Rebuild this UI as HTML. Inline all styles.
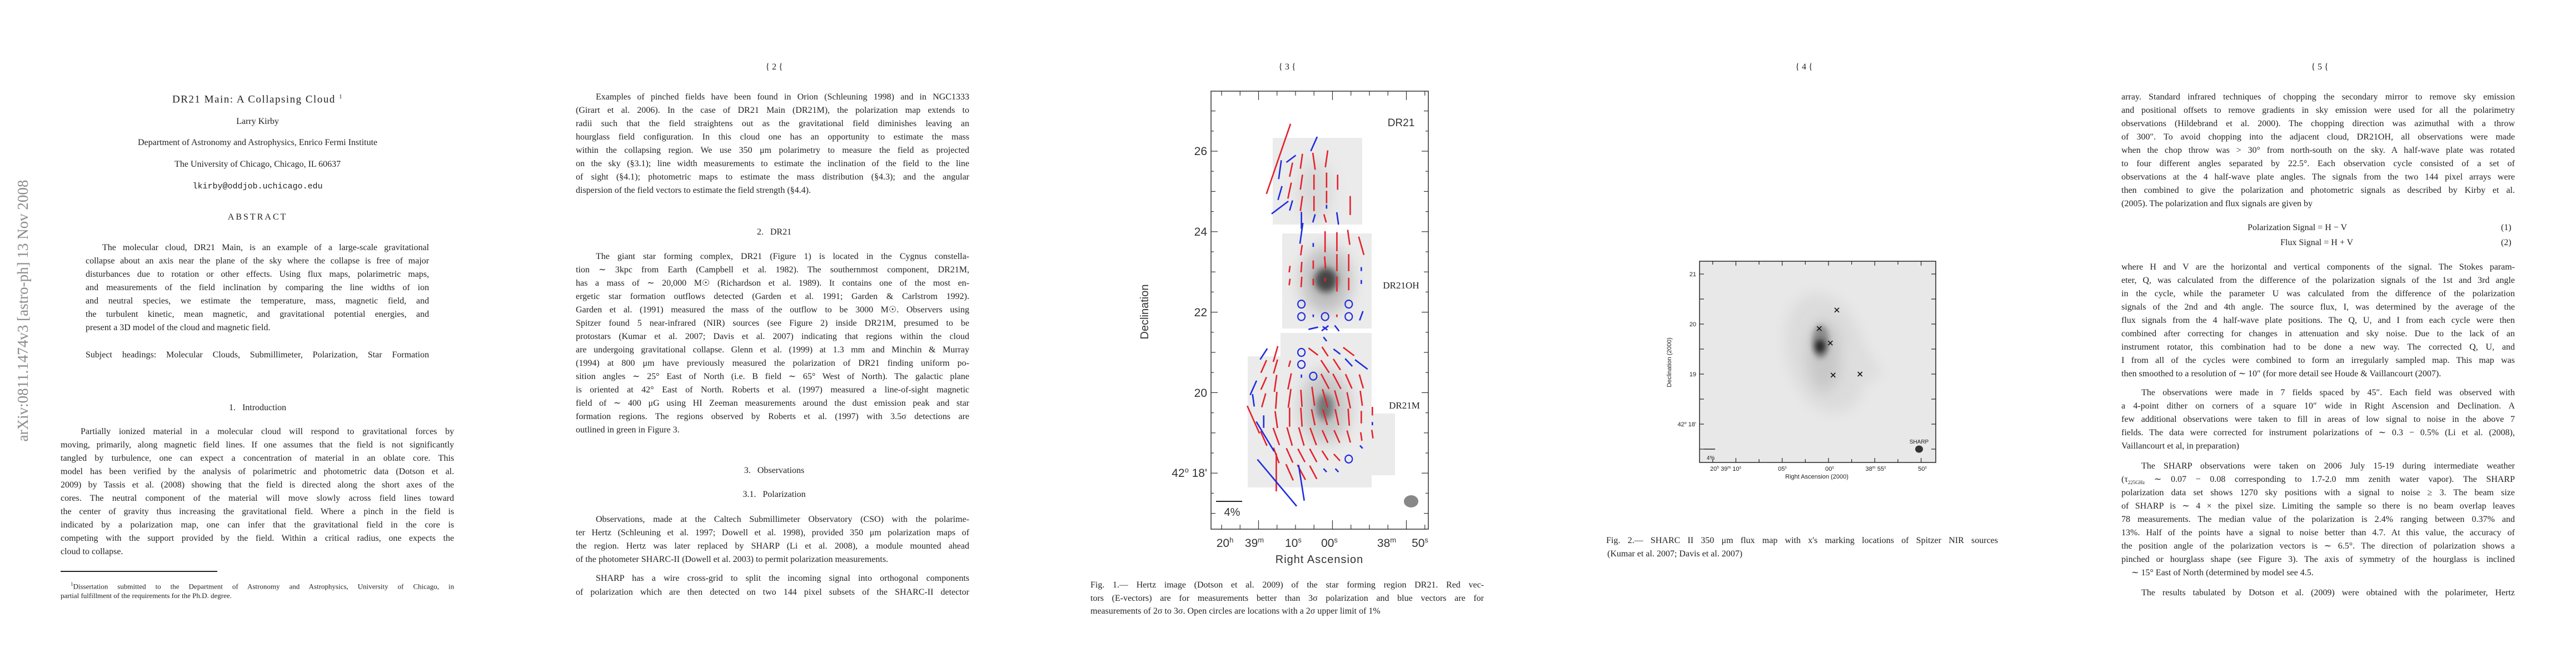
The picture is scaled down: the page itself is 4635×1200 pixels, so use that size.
<!DOCTYPE html>
<html><head><meta charset="utf-8">
<style>
html,body{margin:0;padding:0;background:#fff;}
body{width:4635px;height:1200px;position:relative;overflow:hidden;}
.t{position:absolute;white-space:nowrap;font:16px/20px "Liberation Serif",serif;color:#222;}
.j{text-align:justify;text-align-last:justify;}
.c{text-align:center;}
.fn{font-size:13px;line-height:16px;}
svg{position:absolute;left:0;top:0;}
</style></head>
<body>
<!-- sidebar -->
<div class="t" style="left:41px;top:559px;font-size:27px;line-height:30px;color:#8a8a8a;transform:translate(-50%,-50%) rotate(-90deg);">arXiv:0811.1474v3 [astro-ph] 13 Nov 2008</div>

<!-- PAGE 1 -->
<div>
<div class="t c" style="left:0;width:927px;top:164px;font-size:19px;letter-spacing:1.5px;">DR21 Main: A Collapsing Cloud <sup style="font-size:11px">1</sup></div>
<div class="t c" style="left:0;width:927px;top:209px;">Larry Kirby</div>
<div class="t c" style="left:0;width:927px;top:247px;">Department of Astronomy and Astrophysics, Enrico Fermi Institute</div>
<div class="t c" style="left:0;width:927px;top:286px;">The University of Chicago, Chicago, IL 60637</div>
<div class="t c" style="left:0;width:927px;top:326px;font-family:'Liberation Mono',monospace;font-size:15px;">lkirby@oddjob.uchicago.edu</div>
<div class="t c" style="left:0;width:927px;top:381px;letter-spacing:3px;">ABSTRACT</div>
<div class="t j" style="left:184px;width:588px;top:436px;">The molecular cloud, DR21 Main, is an example of a large-scale gravitational</div>
<div class="t j" style="left:154px;width:618px;top:460px;">collapse about an axis near the plane of the sky where the collapse is free of major</div>
<div class="t j" style="left:154px;width:618px;top:484px;">disturbances due to rotation or other effects. Using flux maps, polarimetric maps,</div>
<div class="t j" style="left:154px;width:618px;top:508px;">and measurements of the field inclination by comparing the line widths of ion</div>
<div class="t j" style="left:154px;width:618px;top:532px;">and neutral species, we estimate the temperature, mass, magnetic field, and</div>
<div class="t j" style="left:154px;width:618px;top:556px;">the turbulent kinetic, mean magnetic, and gravitational potential energies, and</div>
<div class="t" style="left:154px;top:580px;">present a 3D model of the cloud and magnetic field.</div>
<div class="t j" style="left:154px;width:618px;top:629px;">Subject headings: Molecular Clouds, Submillimeter, Polarization, Star Formation</div>
<div class="t c" style="left:0;width:927px;top:724px;">1.&nbsp;&nbsp; Introduction</div>
<div class="t j" style="left:145px;width:672px;top:767px;">Partially ionized material in a molecular cloud will respond to gravitational forces by</div>
<div class="t j" style="left:109px;width:708px;top:791px;">moving, primarily, along magnetic field lines. If one assumes that the field is not significantly</div>
<div class="t j" style="left:109px;width:708px;top:815px;">tangled by turbulence, one can expect a concentration of material in an oblate core. This</div>
<div class="t j" style="left:109px;width:708px;top:839px;">model has been verified by the analysis of polarimetric and photometric data (Dotson et al.</div>
<div class="t j" style="left:109px;width:708px;top:863px;">2009) by Tassis et al. (2008) showing that the field is directed along the short axes of the</div>
<div class="t j" style="left:109px;width:708px;top:887px;">cores. The neutral component of the material will move slowly across field lines toward</div>
<div class="t j" style="left:109px;width:708px;top:911px;">the center of gravity thus increasing the gravitational field. Where a pinch in the field is</div>
<div class="t j" style="left:109px;width:708px;top:935px;">indicated by a polarization map, one can infer that the gravitational field in the core is</div>
<div class="t j" style="left:109px;width:708px;top:959px;">competing with the support provided by the field. Within a critical radius, one expects the</div>
<div class="t" style="left:109px;top:983px;">cloud to collapse.</div>
<div style="position:absolute;left:109px;top:1027px;width:282px;height:1.5px;background:#222;"></div>
<div class="t j fn" style="left:127px;width:690px;top:1043px;"><sup style="font-size:9px">1</sup>Dissertation submitted to the Department of Astronomy and Astrophysics, University of Chicago, in</div>
<div class="t fn" style="left:109px;top:1064px;">partial fulfillment of the requirements for the Ph.D. degree.</div>
</div>

<!-- PAGE 2 -->
<div>
<div class="t c" style="left:927px;width:932px;top:111px;">{ 2 {</div>
<div class="t j" style="left:1072px;width:672px;top:165px;">Examples of pinched fields have been found in Orion (Schleuning 1998) and in NGC1333</div>
<div class="t j" style="left:1036px;width:708px;top:189px;">(Girart et al. 2006). In the case of DR21 Main (DR21M), the polarization map extends to</div>
<div class="t j" style="left:1036px;width:708px;top:213px;">radii such that the field straightens out as the gravitational field diminishes leaving an</div>
<div class="t j" style="left:1036px;width:708px;top:237px;">hourglass field configuration. In this cloud one has an opportunity to estimate the mass</div>
<div class="t j" style="left:1036px;width:708px;top:261px;">within the collapsing region. We use 350 μm polarimetry to measure the field as projected</div>
<div class="t j" style="left:1036px;width:708px;top:285px;">on the sky (§3.1); line width measurements to estimate the inclination of the field to the line</div>
<div class="t j" style="left:1036px;width:708px;top:309px;">of sight (§4.1); photometric maps to estimate the mass distribution (§4.3); and the angular</div>
<div class="t" style="left:1036px;top:333px;">dispersion of the field vectors to estimate the field strength (§4.4).</div>
<div class="t c" style="left:927px;width:932px;top:408px;">2.&nbsp;&nbsp; DR21</div>
<div class="t j" style="left:1072px;width:672px;top:452px;">The giant star forming complex, DR21 (Figure 1) is located in the Cygnus constella-</div>
<div class="t j" style="left:1036px;width:708px;top:476px;">tion ∼ 3kpc from Earth (Campbell et al. 1982). The southernmost component, DR21M,</div>
<div class="t j" style="left:1036px;width:708px;top:500px;">has a mass of ∼ 20,000 M☉ (Richardson et al. 1989). It contains one of the most en-</div>
<div class="t j" style="left:1036px;width:708px;top:524px;">ergetic star formation outflows detected (Garden et al. 1991; Garden &amp; Carlstrom 1992).</div>
<div class="t j" style="left:1036px;width:708px;top:548px;">Garden et al. (1991) measured the mass of the outflow to be 3000 M☉. Observers using</div>
<div class="t j" style="left:1036px;width:708px;top:572px;">Spitzer found 5 near-infrared (NIR) sources (see Figure 2) inside DR21M, presumed to be</div>
<div class="t j" style="left:1036px;width:708px;top:596px;">protostars (Kumar et al. 2007; Davis et al. 2007) indicating that regions within the cloud</div>
<div class="t j" style="left:1036px;width:708px;top:620px;">are undergoing gravitational collapse. Glenn et al. (1999) at 1.3 mm and Minchin &amp; Murray</div>
<div class="t j" style="left:1036px;width:708px;top:644px;">(1994) at 800 μm have previously measured the polarization of DR21 finding uniform po-</div>
<div class="t j" style="left:1036px;width:708px;top:668px;">sition angles ∼ 25° East of North (i.e. B field ∼ 65° West of North). The galactic plane</div>
<div class="t j" style="left:1036px;width:708px;top:692px;">is oriented at 42° East of North. Roberts et al. (1997) measured a line-of-sight magnetic</div>
<div class="t j" style="left:1036px;width:708px;top:716px;">field of ∼ 400 μG using HI Zeeman measurements around the dust emission peak and star</div>
<div class="t j" style="left:1036px;width:708px;top:740px;">formation regions. The regions observed by Roberts et al. (1997) with 3.5σ detections are</div>
<div class="t" style="left:1036px;top:764px;">outlined in green in Figure 3.</div>
<div class="t c" style="left:927px;width:932px;top:837px;">3.&nbsp;&nbsp; Observations</div>
<div class="t c" style="left:927px;width:932px;top:880px;">3.1.&nbsp;&nbsp; Polarization</div>
<div class="t j" style="left:1072px;width:672px;top:925px;">Observations, made at the Caltech Submillimeter Observatory (CSO) with the polarime-</div>
<div class="t j" style="left:1036px;width:708px;top:949px;">ter Hertz (Schleuning et al. 1997; Dowell et al. 1998), provided 350 μm polarization maps of</div>
<div class="t j" style="left:1036px;width:708px;top:973px;">the region. Hertz was later replaced by SHARP (Li et al. 2008), a module mounted ahead</div>
<div class="t" style="left:1036px;top:997px;">of the photometer SHARC-II (Dowell et al. 2003) to permit polarization measurements.</div>
<div class="t j" style="left:1072px;width:672px;top:1031px;">SHARP has a wire cross-grid to split the incoming signal into orthogonal components</div>
<div class="t j" style="left:1036px;width:708px;top:1056px;">of polarization which are then detected on two 144 pixel subsets of the SHARC-II detector</div>
</div>

<!-- PAGE 3 -->
<div>
<div class="t c" style="left:1850px;width:932px;top:111px;">{ 3 {</div>
<svg id="fig1" width="4635" height="1200" style="pointer-events:none">
<defs>
<filter id="bl1" x="-50%" y="-50%" width="200%" height="200%"><feGaussianBlur stdDeviation="14"/></filter>
<filter id="bl2" x="-50%" y="-50%" width="200%" height="200%"><feGaussianBlur stdDeviation="6"/></filter>
</defs>
<g fill="#ebebeb">
<rect x="2290" y="248" width="161" height="156"/>
<rect x="2307" y="420" width="161" height="171"/>
<rect x="2304" y="599" width="164" height="278"/>
<rect x="2245" y="641" width="59" height="236"/>
<rect x="2468" y="744" width="42" height="111"/>
</g>
<g>
<ellipse cx="2366" cy="343" rx="30" ry="55" fill="#d8d8d8" filter="url(#bl1)"/>
<ellipse cx="2386" cy="504" rx="45" ry="60" fill="#bdbdbd" filter="url(#bl1)"/>
<ellipse cx="2386" cy="504" rx="20" ry="22" fill="#444" filter="url(#bl2)"/>
<ellipse cx="2384" cy="732" rx="45" ry="65" fill="#c6c6c6" filter="url(#bl1)"/>
<ellipse cx="2384" cy="732" rx="16" ry="24" fill="#777" filter="url(#bl2)"/>
</g>
<g id="f1marks"></g>
<rect x="2179" y="164" width="391" height="788" fill="none" stroke="#333" stroke-width="1.5"/>
<g id="f1ticks" stroke="#333" stroke-width="1.2"></g>
<g font-family="Liberation Sans, sans-serif" fill="#333" font-size="21">
<text x="2172" y="279" text-anchor="end">26</text>
<text x="2172" y="424" text-anchor="end">24</text>
<text x="2172" y="569" text-anchor="end">22</text>
<text x="2172" y="714" text-anchor="end">20</text>
<text x="2172" y="858" text-anchor="end">42<tspan dy="-8" font-size="13">o</tspan><tspan dy="8"> 18'</tspan></text>
<text x="2204" y="984" text-anchor="middle">20<tspan dy="-8" font-size="13">h</tspan></text>
<text x="2257" y="984" text-anchor="middle">39<tspan dy="-8" font-size="13">m</tspan></text>
<text x="2327" y="984" text-anchor="middle">10<tspan dy="-8" font-size="13">s</tspan></text>
<text x="2392" y="984" text-anchor="middle">00<tspan dy="-8" font-size="13">s</tspan></text>
<text x="2495" y="984" text-anchor="middle">38<tspan dy="-8" font-size="13">m</tspan></text>
<text x="2555" y="984" text-anchor="middle">50<tspan dy="-8" font-size="13">s</tspan></text>
<text x="2374" y="1013" text-anchor="middle" font-size="20" letter-spacing="1">Right Ascension</text>
<text x="2066" y="561" text-anchor="middle" font-size="20" transform="rotate(-90 2066 561)">Declination</text>
<text x="2521" y="227" text-anchor="middle" font-size="19">DR21</text>
</g>
<g font-family="Liberation Serif, serif" fill="#222" font-size="17">
<text x="2521" y="519" text-anchor="middle">DR21OH</text>
<text x="2527" y="735" text-anchor="middle">DR21M</text>
</g>
<line x1="2188" y1="902" x2="2235" y2="902" stroke="#222" stroke-width="2"/>
<text x="2217" y="928" text-anchor="middle" font-family="Liberation Sans, sans-serif" font-size="20" fill="#333">4%</text>
<ellipse cx="2539" cy="902" rx="13" ry="11" fill="#888"/>
</svg>
<div class="t j" style="left:1962px;width:708px;top:1043px;">Fig. 1.— Hertz image (Dotson et al. 2009) of the star forming region DR21. Red vec-</div>
<div class="t j" style="left:1962px;width:708px;top:1067px;">tors (E-vectors) are for measurements better than 3σ polarization and blue vectors are for</div>
<div class="t" style="left:1962px;top:1090px;">measurements of 2σ to 3σ. Open circles are locations with a 2σ upper limit of 1%</div>
</div>

<!-- PAGE 4 -->
<div>
<div class="t c" style="left:2780px;width:932px;top:111px;">{ 4 {</div>
<svg id="fig2" width="4635" height="1200" style="pointer-events:none">
<defs>
<filter id="bl3" x="-50%" y="-50%" width="200%" height="200%"><feGaussianBlur stdDeviation="12"/></filter>
<filter id="bl4" x="-50%" y="-50%" width="200%" height="200%"><feGaussianBlur stdDeviation="5"/></filter>
<clipPath id="cp2"><rect x="3058" y="470" width="425" height="362"/></clipPath>
</defs>
<rect x="3058" y="470" width="425" height="362" fill="#e8e8e8"/>
<g clip-path="url(#cp2)">
<ellipse cx="3285" cy="635" rx="70" ry="110" fill="#dcdcdc" filter="url(#bl3)" transform="rotate(-15 3285 635)"/>
<ellipse cx="3330" cy="650" rx="60" ry="25" fill="#dedede" filter="url(#bl3)" transform="rotate(25 3330 650)"/>
<ellipse cx="3282" cy="640" rx="30" ry="65" fill="#c8c8c8" filter="url(#bl3)"/>
<ellipse cx="3276" cy="615" rx="15" ry="30" fill="#8a8a8a" filter="url(#bl4)"/>
<ellipse cx="3275" cy="623" rx="9" ry="12" fill="#222" filter="url(#bl4)"/>
</g>
<g id="f2marks"></g>
<rect x="3058" y="470" width="425" height="362" fill="none" stroke="#222" stroke-width="1.5"/>
<g id="f2ticks" stroke="#222" stroke-width="1.2"></g>
<g font-family="Liberation Sans, sans-serif" fill="#222" font-size="11">
<text x="3052" y="497" text-anchor="end">21</text>
<text x="3052" y="587" text-anchor="end">20</text>
<text x="3052" y="677" text-anchor="end">19</text>
<text x="3052" y="767" text-anchor="end">42<tspan dy="-4" font-size="7">o</tspan><tspan dy="4"> 18'</tspan></text>
<text x="3105" y="847" text-anchor="middle">20<tspan dy="-4" font-size="7">h</tspan><tspan dy="4"> 39</tspan><tspan dy="-4" font-size="7">m</tspan><tspan dy="4"> 10</tspan><tspan dy="-4" font-size="7">s</tspan></text>
<text x="3207" y="847" text-anchor="middle">05<tspan dy="-4" font-size="7">s</tspan></text>
<text x="3292" y="847" text-anchor="middle">00<tspan dy="-4" font-size="7">s</tspan></text>
<text x="3375" y="847" text-anchor="middle">38<tspan dy="-4" font-size="7">m</tspan><tspan dy="4"> 55</tspan><tspan dy="-4" font-size="7">s</tspan></text>
<text x="3459" y="847" text-anchor="middle">50<tspan dy="-4" font-size="7">s</tspan></text>
<text x="3269" y="861" text-anchor="middle">Right Ascension (2000)</text>
<text x="3007" y="652" text-anchor="middle" transform="rotate(-90 3007 652)">Declination (2000)</text>
<text x="3453" y="798" text-anchor="middle" font-size="10">SHARP</text>
<text x="3078" y="827" text-anchor="middle" font-size="10">4%</text>
</g>
<ellipse cx="3453" cy="808" rx="7" ry="6.5" fill="#333"/>
<line x1="3066" y1="808" x2="3086" y2="808" stroke="#222" stroke-width="1.5"/>
</svg>
<div class="t j" style="left:2890px;width:705px;top:963px;">Fig. 2.— SHARC II 350 μm flux map with x's marking locations of Spitzer NIR sources</div>
<div class="t" style="left:2892px;top:987px;">(Kumar et al. 2007; Davis et al. 2007)</div>
</div>

<!-- PAGE 5 -->
<div>
<div class="t c" style="left:3708px;width:932px;top:111px;">{ 5 {</div>
<div class="t j" style="left:3817px;width:708px;top:165px;">array. Standard infrared techniques of chopping the secondary mirror to remove sky emission</div>
<div class="t j" style="left:3817px;width:708px;top:189px;">and positional offsets to remove gradients in sky emission were used for all the polarimetry</div>
<div class="t j" style="left:3817px;width:708px;top:213px;">observations (Hildebrand et al. 2000). The chopping direction was azimuthal with a throw</div>
<div class="t j" style="left:3817px;width:708px;top:237px;">of 300″. To avoid chopping into the adjacent cloud, DR21OH, all observations were made</div>
<div class="t j" style="left:3817px;width:708px;top:261px;">when the chop throw was &gt; 30° from north-south on the sky. A half-wave plate was rotated</div>
<div class="t j" style="left:3817px;width:708px;top:285px;">to four different angles separated by 22.5°. Each observation cycle consisted of a set of</div>
<div class="t j" style="left:3817px;width:708px;top:309px;">observations at the 4 half-wave plate angles. The signals from the two 144 pixel arrays were</div>
<div class="t j" style="left:3817px;width:708px;top:333px;">then combined to give the polarization and photometric signals as described by Kirby et al.</div>
<div class="t" style="left:3817px;top:357px;">(2005). The polarization and flux signals are given by</div>
<div class="t" style="left:4044px;top:400px;">Polarization Signal = H − V</div>
<div class="t" style="left:4500px;top:400px;">(1)</div>
<div class="t" style="left:4103px;top:427px;">Flux Signal = H + V</div>
<div class="t" style="left:4500px;top:427px;">(2)</div>
<div class="t j" style="left:3817px;width:708px;top:471px;">where H and V are the horizontal and vertical components of the signal. The Stokes param-</div>
<div class="t j" style="left:3817px;width:708px;top:495px;">eter, Q, was calculated from the difference of the polarization signals of the 1st and 3rd angle</div>
<div class="t j" style="left:3817px;width:708px;top:519px;">in the cycle, while the parameter U was calculated from the difference of the polarization</div>
<div class="t j" style="left:3817px;width:708px;top:543px;">signals of the 2nd and 4th angle. The source flux, I, was determined by the average of the</div>
<div class="t j" style="left:3817px;width:708px;top:567px;">flux signals from the 4 half-wave plate positions. The Q, U, and I from each cycle were then</div>
<div class="t j" style="left:3817px;width:708px;top:591px;">combined after correcting for changes in attenuation and sky noise. Due to the lack of an</div>
<div class="t j" style="left:3817px;width:708px;top:615px;">instrument rotator, this combination had to be done a new way. The corrected Q, U, and</div>
<div class="t j" style="left:3817px;width:708px;top:639px;">I from all of the cycles were combined to form an irregularly sampled map. This map was</div>
<div class="t" style="left:3817px;top:663px;">then smoothed to a resolution of ∼ 10″ (for more detail see Houde &amp; Vaillancourt (2007).</div>
<div class="t j" style="left:3853px;width:672px;top:697px;">The observations were made in 7 fields spaced by 45″. Each field was observed with</div>
<div class="t j" style="left:3817px;width:708px;top:721px;">a 4-point dither on corners of a square 10″ wide in Right Ascension and Declination. A</div>
<div class="t j" style="left:3817px;width:708px;top:745px;">few additional observations were taken to fill in areas of low signal to noise in the above 7</div>
<div class="t j" style="left:3817px;width:708px;top:769px;">fields. The data were corrected for instrument polarizations of ∼ 0.3 − 0.5% (Li et al. (2008),</div>
<div class="t" style="left:3817px;top:793px;">Vaillancourt et al, in preparation)</div>
<div class="t j" style="left:3853px;width:672px;top:829px;">The SHARP observations were taken on 2006 July 15-19 during intermediate weather</div>
<div class="t j" style="left:3817px;width:708px;top:853px;">(τ<sub style="font-size:9px">225GHz</sub> ∼ 0.07 − 0.08 corresponding to 1.7-2.0 mm zenith water vapor). The SHARP</div>
<div class="t j" style="left:3817px;width:708px;top:877px;">polarization data set shows 1270 sky positions with a signal to noise ≥ 3. The beam size</div>
<div class="t j" style="left:3817px;width:708px;top:901px;">of SHARP is ∼ 4 × the pixel size. Limiting the sample so there is no beam overlap leaves</div>
<div class="t j" style="left:3817px;width:708px;top:925px;">78 measurements. The median value of the polarization is 2.4% ranging between 0.37% and</div>
<div class="t j" style="left:3817px;width:708px;top:949px;">13%. Half of the points have a signal to noise better than 4.7. At this value, the accuracy of</div>
<div class="t j" style="left:3817px;width:708px;top:973px;">the position angle of the polarization vectors is ∼ 6.5°. The direction of polarization shows a</div>
<div class="t j" style="left:3817px;width:708px;top:997px;">pinched or hourglass shape (see Figure 3). The axis of symmetry of the hourglass is inclined</div>
<div class="t" style="left:3835px;top:1021px;">∼ 15° East of North (determined by model see 4.5.</div>
<div class="t j" style="left:3853px;width:672px;top:1057px;">The results tabulated by Dotson et al. (2009) were obtained with the polarimeter, Hertz</div>
</div>

<script>
// ---- Figure 1 data: [RA seconds after 20h38m, Dec arcmin after 42deg, angle deg from N (east-of-north tilt to right), polarization %]
var redVectors = [
[67.3,25.81,19,11.3],[65.6,25.54,12,2.2],[65.8,25.02,12,2.5],[64.2,25.75,8,2.3],[64.2,25.23,8,2.3],[64.2,24.70,8,2.3],
[62.5,25.75,-8,2.6],[62.5,25.23,0,2.3],[62.5,24.70,0,2.3],[60.8,25.81,8,2.6],[60.8,25.28,0,2.3],[60.8,24.86,0,1.9],
[59.3,25.23,0,2.3],[57.6,24.65,0,2.9],[61.0,24.33,-16,1.3],
[65.8,23.07,8,1.0],[65.8,22.75,8,1.0],[64.2,23.54,8,1.6],[64.2,23.12,4,1.6],[64.2,22.75,4,1.6],
[62.6,23.18,0,1.3],[62.6,22.75,0,1.0],[61.0,23.75,0,3.2],[61.0,23.23,-4,1.9],[61.0,22.81,0,0.6],
[59.4,23.75,0,2.9],[59.4,23.23,0,2.6],[59.4,22.70,0,2.3],[57.8,23.86,-8,2.3],[57.8,23.23,0,2.6],[57.8,22.70,0,1.9],
[56.1,23.65,-16,2.9],[59.4,21.91,0,0.4],
[67.7,20.96,16,2.5],[69.3,20.65,24,2.1],[67.7,20.65,16,2.2],[65.8,20.72,16,1.0],
[62.6,21.02,-53,1.8],[61.0,21.02,-33,1.7],[57.8,21.02,-53,2.1],[61.0,20.65,-33,2.3],[59.4,20.70,-33,2.0],
[69.3,20.23,24,2.1],[67.7,20.23,8,2.6],[65.8,20.28,12,2.5],[61.0,20.28,-28,2.6],[59.4,20.28,-28,2.6],[57.8,20.28,-24,2.4],[56.1,20.28,-16,2.2],
[69.3,19.81,16,2.2],[67.6,19.81,4,2.6],[65.8,19.86,8,2.9],[64.2,19.86,-4,2.6],[62.6,19.91,-8,2.9],[61.0,19.86,-16,2.9],[59.4,19.86,-16,2.5],[57.8,19.81,-12,2.5],[56.1,19.86,-8,2.3],
[70.7,19.33,-24,4.6],[67.6,19.33,-8,2.6],[65.8,19.39,0,2.9],[64.2,19.39,-4,2.9],[62.6,19.39,-12,2.5],[61.0,19.39,-16,2.5],[59.4,19.39,-12,2.5],[57.8,19.39,-4,2.6],[56.1,19.39,0,1.9],[54.6,19.54,0,1.3],
[69.3,18.86,-24,2.4],[67.6,18.91,-20,2.8],[65.8,18.91,-16,2.9],[64.2,18.91,-16,2.9],[62.6,18.91,-20,2.8],[61.0,18.91,-24,2.1],[59.4,18.91,-24,2.1],[57.8,18.91,-16,1.9],[56.1,18.91,-8,1.3],[54.6,18.97,-8,1.3],
[67.6,18.44,-20,2.5],[65.8,18.44,-24,2.4],[64.2,18.44,-28,2.3],[62.6,18.44,-28,2.3],[61.0,18.44,-33,1.7],[59.4,18.39,-43,1.4],
[67.6,18.02,0,5.8],[65.8,18.02,-24,2.7],[64.2,18.02,-28,2.6],[62.6,18.02,-28,2.3]
];
var blueVectors = [
[67.1,25.54,8,2.9],[65.6,25.81,53,1.8],[67.1,24.96,16,2.2],[67.1,24.60,53,3.2],[65.6,24.65,16,1.6],[62.5,26.18,24,2.4],
[60.8,24.62,0,0.6],[64.2,24.28,0,2.6],[62.5,24.33,16,1.3],[59.3,24.33,-8,1.9],
[64.2,23.96,8,3.2],[62.6,23.67,0,0.6],[56.1,23.07,0,0.6],[56.1,22.75,0,0.6],[56.1,21.91,20,1.5],[62.6,21.91,0,0.4],
[62.6,21.60,77,1.5],[61.0,21.60,53,1.3],[61.0,21.60,-53,0.9],[59.4,21.60,-38,1.1],[61.0,21.33,-38,0.8],
[69.3,20.96,33,2.0],[59.4,21.02,-53,1.3],[57.8,20.75,-43,1.6],[56.1,20.70,-53,2.4],[64.2,20.41,0,0.5],
[70.7,20.12,24,2.4],[70.7,19.81,-8,1.9],[69.3,19.28,0,1.9],[54.6,19.23,0,0.5],
[69.1,18.91,-31,5.3],[56.1,18.65,-43,0.6],[61.0,18.07,-43,0.7],[59.4,18.07,-43,0.7],
[67.5,17.76,-40,9.3],[64.2,17.76,-9,5.5]
];
var upperLimitCircles = [[64.2,22.20],[64.2,21.89],[61.0,21.89],[57.8,22.20],[57.8,21.89],[64.2,21.00],[64.2,20.70],[62.6,20.41],[57.8,18.35]];
var f1DecTicks = [17,17.5,18,18.5,19,19.5,20,20.5,21,21.5,22,22.5,23,23.5,24,24.5,25,25.5,26,26.5,27];
var f1DecMajor = [18,20,22,24,26];
var f1RaTicks = [75,72.5,70,67.5,65,62.5,60,57.5,55,52.5,50,47.5];
var f1RaMajor = [70,60,50];

// ---- Figure 2 data
var nirRA = [59.1,61.0,59.8,59.5,56.6];
var nirDec = [20.28,19.91,19.62,18.98,19.00];
var f2DecTicks = [17.5,18,18.5,19,19.5,20,20.5,21];
var f2RaTicks = [72.5,70,67.5,65,62.5,60,57.5,55,52.5,50];

var NS='http://www.w3.org/2000/svg';
function mk(tag,attrs,parent){var e=document.createElementNS(NS,tag);for(var k in attrs)e.setAttribute(k,attrs[k]);parent.appendChild(e);return e;}

// fig1 axes
function x1(ra){return 2397.5+(60-ra)*13.3;}
function y1(dec){return 272+(26-dec)*72.4;}
var PXPCT=11.8;
var g1=document.getElementById('f1marks');
function drawVec(v,color,name){
  var cx=x1(v[0]),cy=y1(v[1]),L=v[3]*PXPCT/2,a=v[2]*Math.PI/180;
  var dx=Math.sin(a)*L,dy=-Math.cos(a)*L;
  var ln=mk('line',{x1:cx-dx,y1:cy-dy,x2:cx+dx,y2:cy+dy,stroke:color,'stroke-width':2.6,'stroke-linecap':'butt'},g1);
  
  
}
redVectors.forEach(function(v){drawVec(v,'#e5202b','red-vector');});
blueVectors.forEach(function(v){drawVec(v,'#1f2be0','blue-vector');});
upperLimitCircles.forEach(function(c){
  var e=mk('ellipse',{cx:x1(c[0]),cy:y1(c[1]),rx:6.5,ry:7,fill:'none',stroke:'#1f2be0','stroke-width':2.2},g1);
  
  
});
var t1=document.getElementById('f1ticks');
f1DecTicks.forEach(function(d){
  var L=f1DecMajor.indexOf(d)>=0?12:(d%1===0?8:5),y=y1(d);
  var a=mk('line',{x1:2179,y1:y,x2:2179+L,y2:y},t1);
  
  
  var b=mk('line',{x1:2570,y1:y,x2:2570-L,y2:y},t1);
  
  
});
f1RaTicks.forEach(function(r){
  var L=f1RaMajor.indexOf(r)>=0?16:8,x=x1(r);
  var a=mk('line',{x1:x,y1:164,x2:x,y2:164+L},t1);
  
  
  var b=mk('line',{x1:x,y1:952,x2:x,y2:952-L},t1);
  
  
});

// fig2 axes
function x2(ra){return 3290+(60-ra)*16.66;}
function y2(dec){return 583+(20-dec)*90;}
var g2=document.getElementById('f2marks');
for(var i=0;i<nirRA.length;i++){
  var cx=x2(nirRA[i]),cy=y2(nirDec[i]),s=4;
  var gg=mk('g',{stroke:'#111','stroke-width':1.6},g2);
  
  
  mk('line',{x1:cx-s,y1:cy-s,x2:cx+s,y2:cy+s},gg);
  mk('line',{x1:cx-s,y1:cy+s,x2:cx+s,y2:cy-s},gg);
}
var t2=document.getElementById('f2ticks');
f2DecTicks.forEach(function(d){
  var y=y2(d);
  var a=mk('line',{x1:3058,y1:y,x2:3066,y2:y},t2);
  
  
  var b=mk('line',{x1:3483,y1:y,x2:3475,y2:y},t2);
  
  
});
f2RaTicks.forEach(function(r){
  var x=x2(r),L=(r%5===0)?8:6;
  var a=mk('line',{x1:x,y1:470,x2:x,y2:470+L},t2);
  
  
  var b=mk('line',{x1:x,y1:832,x2:x,y2:832-L},t2);
  
  
});
</script>
</body></html>
